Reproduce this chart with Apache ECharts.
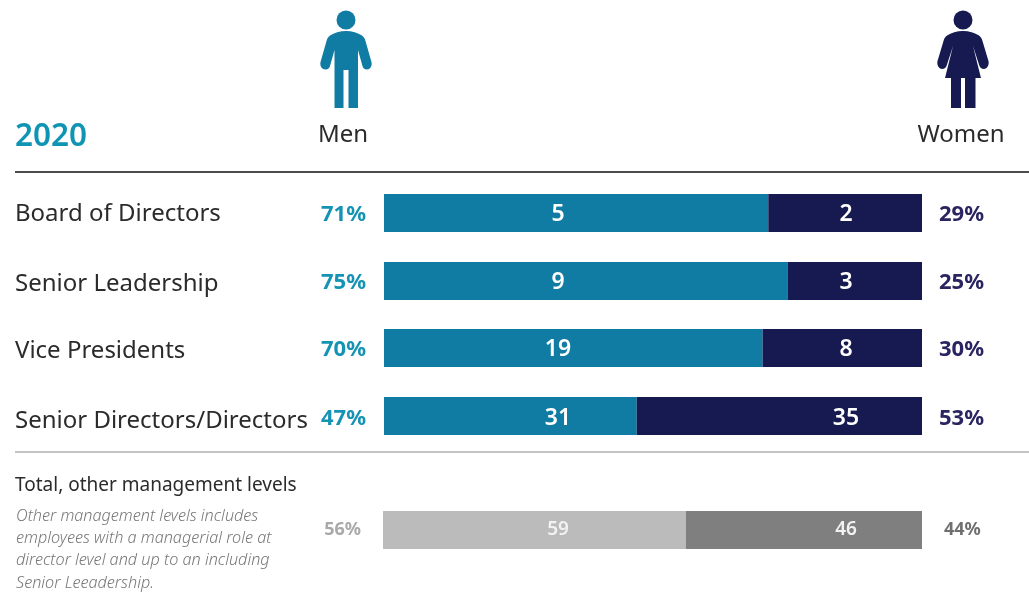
<!DOCTYPE html>
<html>
<head>
<meta charset="utf-8">
<style>html,body{margin:0;padding:0;background:#fff}#chart{width:1029px;height:598px}</style>
<script src="https://cdn.jsdelivr.net/npm/echarts@6/dist/echarts.min.js"></script>
</head>
<body>
<div id="chart"></div>
<script>
// Headcount by management level, 2020
const categories = ['Board of Directors', 'Senior Leadership', 'Vice Presidents', 'Senior Directors/Directors', 'Total, other management levels'];
const menCounts = [5, 9, 19, 31, 59];
const womenCounts = [2, 3, 8, 35, 46];
const menShare = ['71%', '75%', '70%', '47%', '56%'];
const womenShare = ['29%', '25%', '30%', '53%', '44%'];
const noteLines = [
  'Other management levels includes',
  'employees with a managerial role at',
  'director level and up to an including',
  'Senior Leeadership.'
];

const FONT = '"Noto Sans", sans-serif';
const TEAL = '#117ca3', NAVY = '#161a50', LIGHT = '#bbbbbb', MID = '#7f7f7f';
const rowTops = [194, 262, 329, 397, 511];
const rowHeight = 38;
const rowCount = categories.length;
const isOther = i => i === rowCount - 1;
const nameY = [214, 284, 351, 421, 486]; // row titles sit slightly off the bar centres
const valueNudge = [1, 1, 1, 2, 0];
const shareNudge = [2, 2, 2, 3, 0];
const menLabelX = 558, womenLabelX = 846; // count labels stay in two fixed columns

// Each row is its own grid, with the x axis spanning that row's total headcount
const grids = [], xAxes = [], yAxes = [], series = [];
categories.forEach((name, i) => {
  const other = isOther(i);
  const left = other ? 383 : 384, width = other ? 539 : 538;
  const total = menCounts[i] + womenCounts[i];
  grids.push({ left, width, top: rowTops[i], height: rowHeight });
  xAxes.push({ gridIndex: i, type: 'value', min: 0, max: total, show: false });
  yAxes.push({ gridIndex: i, type: 'category', data: [name], show: false });
  const bar = (label, values, color, labelOffset) => ({
    name: label, type: 'bar', stack: 'row' + i, xAxisIndex: i, yAxisIndex: i,
    barWidth: '100%', data: [values[i]], itemStyle: { color }, silent: true,
    label: {
      show: true, position: [labelOffset, rowHeight / 2 + valueNudge[i]],
      align: 'center', verticalAlign: 'middle',
      color: other ? '#f2f2f2' : '#fff',
      fontFamily: FONT, fontSize: other ? 19 : 23, fontWeight: 600
    }
  });
  const womenStart = left + width * menCounts[i] / total;
  series.push(bar('Men', menCounts, other ? LIGHT : TEAL, menLabelX - left));
  series.push(bar('Women', womenCounts, other ? MID : NAVY, womenLabelX - womenStart));
});

// Pictograms above the two columns
const manIcon = 'M346 31C352 31 358 33 362 35.5C364 37 365 39 365.5 41L371.5 62C372.5 66 370 69.5 367 69.5C364.5 69.5 363 68 362.5 66L358 50L358 108L348.5 108L348.5 70L343.5 70L343.5 108L334.5 108L334.5 50L330 66C329.5 68 328 69.5 325.5 69.5C322 69.5 319.5 66 320.5 62L326.5 41C327 39 328 37 330 35.5C334 33 340 31 346 31Z';
const womanIcon = 'M963 31C969 31 975 33 979 35.5C981 37 982 39 982.5 41L988.5 61C989.5 65 987 69 984 69C981.5 69 980 67.5 979.5 66L973 46L981 78L975.5 78L975.5 108L965 108L965 78L961 78L961 108L951 108L951 78L945 78L953 46L946.5 66C946 67.5 944.5 69 942 69C939 69 936.5 65 937.5 61L943.5 41C944 39 945 37 947 35.5C951 33 957 31 963 31Z';
const icon = (pathData, x, width, fill) => ({
  type: 'custom', coordinateSystem: 'none', silent: true, data: [0],
  renderItem: () => ({
    type: 'path',
    shape: { pathData, layout: 'cover', x, y: 31, width, height: 77 },
    style: { fill }
  })
});
series.push(icon(manIcon, 320.3, 51.4, TEAL));
series.push(icon(womanIcon, 937.3, 51.4, NAVY));

const text = (x, y, str, style) => ({
  type: 'text', x, y,
  style: Object.assign({ text: str, fontFamily: FONT, textVerticalAlign: 'middle' }, style)
});
const rule = (y, color, w) => ({
  type: 'line', shape: { x1: 15, y1: y, x2: 1029, y2: y }, style: { stroke: color, lineWidth: w }
});

const graphics = [
  { type: 'circle', shape: { cx: 346, cy: 20, r: 9.5 }, style: { fill: TEAL } },
  { type: 'circle', shape: { cx: 963, cy: 20, r: 9.5 }, style: { fill: NAVY } },
  text(15, 137, '2020', { fontSize: 31.5, fontWeight: 600, fill: '#0f94b4' }),
  text(343, 135, 'Men', { fontSize: 24, fill: '#2b2b2b', textAlign: 'center' }),
  text(961, 135, 'Women', { fontSize: 24, fill: '#2b2b2b', textAlign: 'center' }),
  rule(172, '#111', 1.5),
  rule(452, '#b0b0b0', 1.5)
];
categories.forEach((name, i) => {
  graphics.push(text(15, nameY[i], name, { fontSize: isOther(i) ? 19 : 24, fill: '#2b2b2b' }));
});
noteLines.forEach((line, i) => {
  graphics.push(text(16, 516 + i * 22.3, line, { fontSize: 16.2, fontStyle: 'italic', fontWeight: 300, fill: '#777' }));
});
categories.forEach((_, i) => {
  const other = isOther(i);
  const y = rowTops[i] + rowHeight / 2 + shareNudge[i];
  const size = other ? 18 : 22;
  graphics.push(text(other ? 361 : 366, y, menShare[i], { fontSize: size, fontWeight: 700, fill: other ? '#a9a9a9' : '#1593b4', textAlign: 'right' }));
  graphics.push(text(other ? 944 : 939, y, womenShare[i], { fontSize: size, fontWeight: 700, fill: other ? '#6f6f6f' : '#2a2560', textAlign: 'left' }));
});

const chart = echarts.init(document.getElementById('chart'), null, { renderer: 'canvas' });
chart.setOption({
  animation: false,
  backgroundColor: '#fff',
  grid: grids,
  xAxis: xAxes,
  yAxis: yAxes,
  series,
  graphic: graphics
});
</script>
</body>
</html>
